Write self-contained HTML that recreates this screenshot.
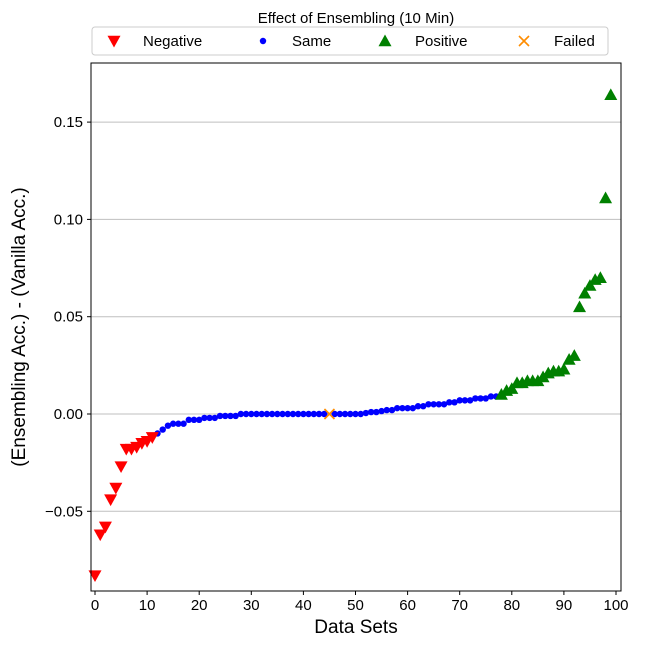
<!DOCTYPE html>
<html><head><meta charset="utf-8"><style>
body{margin:0;background:#fff;font-family:"Liberation Sans",sans-serif}
</style></head><body>
<svg id="c" width="648" height="648" xmlns="http://www.w3.org/2000/svg" font-family="Liberation Sans, sans-serif"></svg>
<script>
const negIdx=[0,1,2,3,4,5,6,7,8,9,10,11];
const negVals=[-0.083,-0.062,-0.058,-0.044,-0.038,-0.027,-0.018,-0.018,-0.017,-0.015,-0.014,-0.012];
const sameVals=[-0.010,-0.008,-0.006,-0.005,-0.005,-0.005,-0.003,-0.003,-0.003,-0.002,-0.002,-0.002,-0.001,-0.001,-0.001,-0.001,
0,0,0,0,0,0,0,0,0,0,0,0,0,0,0,0,0,0,0,0,0,0,0,0,
0.0005,0.001,0.001,0.0015,0.002,0.002,0.003,0.003,0.003,0.003,0.004,0.004,0.005,0.005,0.005,0.005,0.006,0.006,0.007,0.007,0.007,0.008,0.008,0.008,0.009,0.009];
const sameStart=12;
const failedIdx=[45];
const failedVals=[0];
const posVals=[0.010,0.012,0.013,0.016,0.016,0.017,0.017,0.017,0.019,0.021,0.022,0.022,0.023,0.028,0.030,0.055,0.062,0.066,0.069,0.070,0.111,0.164];
const posStart=78;
const xTicks=[0,10,20,30,40,50,60,70,80,90,100];
const yTicks=[-0.05,0,0.05,0.10,0.15];
const yTickLabels=["\u22120.05","0.00","0.05","0.10","0.15"];

const L=91,R=621,T=63,B=591;
const x=v=>95+v*5.21;
const y=v=>414-v*1946;
const svg=document.getElementById('c');
const NS='http://www.w3.org/2000/svg';
function mk(t,a,p){const e=document.createElementNS(NS,t);for(const k in a)e.setAttribute(k,a[k]);(p||svg).appendChild(e);return e;}

yTicks.forEach((v,i)=>{
 const g=mk('line',{x1:L,x2:R,y1:y(v),y2:y(v),stroke:'#bfbfbf','stroke-width':1});
 
 
 mk('line',{x1:L-4,x2:L,y1:y(v),y2:y(v),stroke:'#000'});
 const t=mk('text',{x:L-8,y:y(v)+5,'text-anchor':'end','font-size':15});
 t.textContent=yTickLabels[i];
 
 
});
xTicks.forEach(v=>{
 mk('line',{x1:x(v),x2:x(v),y1:B,y2:B+4,stroke:'#000'});
 const t=mk('text',{x:x(v),y:B+19,'text-anchor':'middle','font-size':15});
 t.textContent=v;
 
 
});

function tri(cx,cy,up,col){
 const s=6.5;
 const pts=up?`${cx},${cy-s} ${cx-s},${cy+s*0.8} ${cx+s},${cy+s*0.8}`:`${cx},${cy+s} ${cx-s},${cy-s*0.8} ${cx+s},${cy-s*0.8}`;
 return mk('polygon',{points:pts,fill:col});
}
sameVals.forEach((v,i)=>{
 const idx=sameStart+i; if(failedIdx.includes(idx))return;
 const c=mk('circle',{cx:x(idx),cy:y(v),r:3.2,fill:'#0000ff'});
 
 
});
negVals.forEach((v,i)=>{
 const p=tri(x(negIdx[i]),y(v),false,'#ff0000');
 
 
});
posVals.forEach((v,i)=>{
 const p=tri(x(posStart+i),y(v),true,'#008000');
 
 
});
failedVals.forEach((v,i)=>{
 const cx=x(failedIdx[i]),cy=y(v),s=5;
 const g=mk('path',{d:`M${cx-s},${cy-s}L${cx+s},${cy+s}M${cx-s},${cy+s}L${cx+s},${cy-s}`,stroke:'#ff8c00','stroke-width':1.6});
 
 
});
const fr=mk('rect',{x:L,y:T,width:R-L,height:B-T,fill:'none',stroke:'#000','stroke-width':1});



const xl=mk('text',{x:356,y:633,'text-anchor':'middle','font-size':19});
xl.textContent='Data Sets';


const yl=mk('text',{x:0,y:0,'text-anchor':'middle','font-size':19,transform:`translate(25,${(T+B)/2}) rotate(-90)`});
yl.textContent='(Ensembling Acc.) - (Vanilla Acc.)';



const lt=mk('text',{x:356,y:23,'text-anchor':'middle','font-size':15});
lt.textContent='Effect of Ensembling (10 Min)';


const lb=mk('rect',{x:92,y:27,width:516,height:28,rx:3,fill:'#fff',stroke:'#ccc'});


const ent=[['Negative',114,143],['Same',263,292],['Positive',385,415],['Failed',524,554]];
ent.forEach((e,i)=>{
 const cy=41;
 let m;
 if(i==0)m=tri(e[1],cy,false,'#ff0000');
 else if(i==1)m=mk('circle',{cx:e[1],cy:cy,r:3.2,fill:'#0000ff'});
 else if(i==2)m=tri(e[1],cy,true,'#008000');
 else m=mk('path',{d:`M${e[1]-5},${cy-5}L${e[1]+5},${cy+5}M${e[1]-5},${cy+5}L${e[1]+5},${cy-5}`,stroke:'#ff8c00','stroke-width':1.6});
 
 
 const t=mk('text',{x:e[2],y:cy+5,'font-size':15});
 t.textContent=e[0];
 
 
});
</script>
</body></html>
